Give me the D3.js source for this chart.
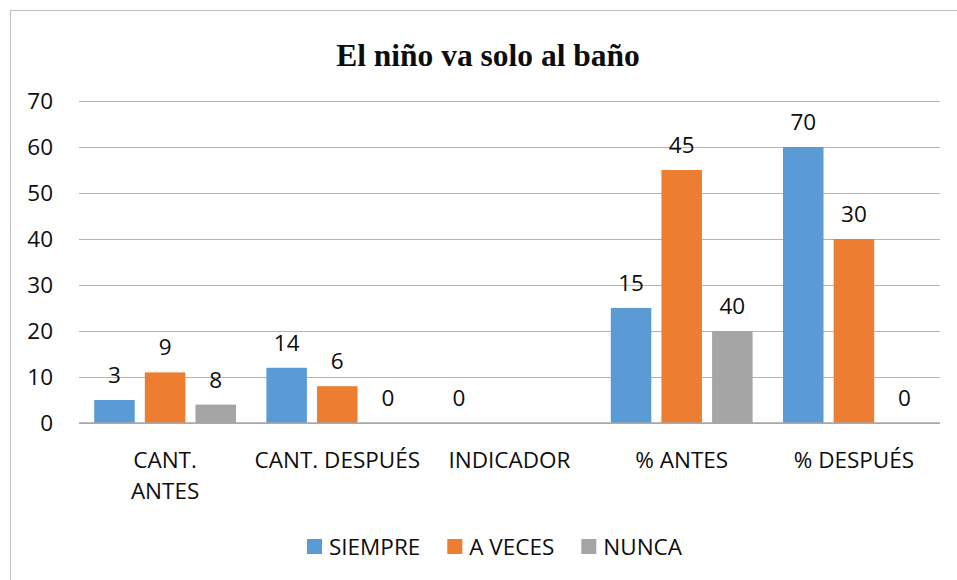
<!DOCTYPE html>
<html>
<head>
<meta charset="utf-8">
<script src="https://cdn.jsdelivr.net/npm/d3@7"></script>
<style>
  body { margin: 0; background: #fff; }
  text { font-family: "Open Sans", sans-serif; fill: #0d0d0d; }
</style>
</head>
<body>
<svg width="957" height="580"></svg>
<script>
// data (bar heights and the printed labels differ in the source)
var categories = ["CANT.\nANTES", "CANT. DESPUÉS", "INDICADOR", "% ANTES", "% DESPUÉS"];
var seriesNames = ["SIEMPRE", "A VECES", "NUNCA"];
var siempre = [5, 12, 0, 25, 60];
var aVeces = [11, 8, 0, 55, 40];
var nunca = [4, 0, 0, 20, 0];
var siempreLabels = ["3", "14", "0", "15", "70"];
var aVecesLabels = ["9", "6", "", "45", "30"];
var nuncaLabels = ["8", "0", "", "40", "0"];
var yTicks = [0, 10, 20, 30, 40, 50, 60, 70];
var colors = ["#5B9BD5", "#ED7D31", "#A5A5A5"];

var values = [siempre, aVeces, nunca];
var labels = [siempreLabels, aVecesLabels, nuncaLabels];

var fs = "22.5px";

var svg = d3.select("svg"),
  margin = { top: 101, right: 17, bottom: 157, left: 79 },
  width = +svg.attr("width") - margin.left - margin.right,
  height = +svg.attr("height") - margin.top - margin.bottom;

// chart frame
svg.append("rect")
  .attr("x", 10.5).attr("y", 10.5)
  .attr("width", 960).attr("height", 600)
  .attr("fill", "none").attr("stroke", "#bfbfbf");

svg.append("text")
  .attr("x", 488).attr("y", 66)
  .attr("text-anchor", "middle")
  .style("font-family", "'Liberation Serif', 'Times New Roman', serif")
  .style("font-weight", "bold")
  .style("font-size", "31.5px")
  .text("El niño va solo al baño");

var g = svg.append("g").attr("transform", "translate(" + margin.left + "," + margin.top + ")");

var x0 = d3.scaleBand().domain(categories).range([0, width]);
var x1 = d3.scaleBand().domain(seriesNames).range([0, x0.bandwidth()])
  .paddingInner(0.2).paddingOuter(0.3);
var y = d3.scaleLinear().domain([0, 70]).range([height, 0]);

// gridlines + y labels
var yAxis = g.append("g")
  .call(d3.axisLeft(y).tickValues(yTicks).tickSize(-width).tickPadding(26).tickFormat(d3.format("d")));
yAxis.select(".domain").remove();
yAxis.selectAll(".tick line").attr("stroke", "#b4b4b4").attr("stroke-width", 1.2);
yAxis.selectAll(".tick text")
  .style("font-size", fs)
  .style("font-family", "'Open Sans', sans-serif")
  .attr("fill", "#0d0d0d");

// bars
var groups = g.selectAll(".cat")
  .data(categories)
  .enter().append("g")
  .attr("class", "cat")
  .attr("transform", d => "translate(" + x0(d) + ",0)");

groups.selectAll("rect")
  .data((d, i) => seriesNames.map((s, j) => ({ s: s, v: values[j][i], l: labels[j][i], c: colors[j] })))
  .enter().append("rect")
  .attr("x", d => x1(d.s))
  .attr("y", d => y(d.v))
  .attr("width", x1.bandwidth())
  .attr("height", d => height - y(d.v))
  .attr("fill", d => d.c);

groups.selectAll(".lbl")
  .data((d, i) => seriesNames.map((s, j) => ({ s: s, v: values[j][i], l: labels[j][i] })))
  .enter().append("text")
  .attr("class", "lbl")
  .attr("x", d => x1(d.s) + x1.bandwidth() / 2)
  .attr("y", d => y(d.v) - 17)
  .attr("text-anchor", "middle")
  .style("font-size", fs)
  .text(d => d.l);

// x axis line
g.append("line")
  .attr("x1", 0).attr("x2", width)
  .attr("y1", height).attr("y2", height)
  .attr("stroke", "#a6a6a6").attr("stroke-width", 1.5);

// category labels
var catText = g.selectAll(".catlbl")
  .data(categories)
  .enter().append("text")
  .attr("class", "catlbl")
  .attr("text-anchor", "middle")
  .attr("transform", d => "translate(" + (x0(d) + x0.bandwidth() / 2) + "," + (height + 45) + ")")
  .style("font-size", fs);
catText.selectAll("tspan")
  .data(d => d.split("\n"))
  .enter().append("tspan")
  .attr("x", 0)
  .attr("dy", (d, i) => i === 0 ? 0 : 31)
  .text(d => d);

// legend
var legend = svg.append("g");
var lx = 0;
seriesNames.forEach(function (s, i) {
  var item = legend.append("g").attr("transform", "translate(" + lx + ",0)");
  item.append("rect").attr("x", 0).attr("y", -16).attr("width", 15).attr("height", 15).attr("fill", colors[i]);
  var t = item.append("text").attr("x", 22).attr("y", 0).style("font-size", fs).text(s);
  lx += 22 + t.node().getComputedTextLength() + 27;
});
lx -= 27;
legend.attr("transform", "translate(" + (494.5 - lx / 2) + ",555)");
</script>
</body>
</html>
